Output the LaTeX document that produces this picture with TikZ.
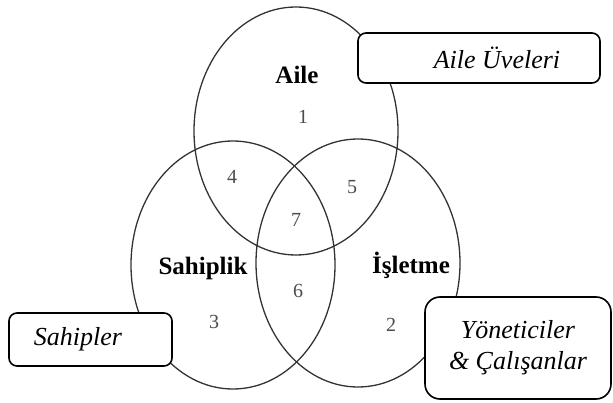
\documentclass[tikz,border=0pt]{standalone}
\usepackage{fontspec}
\setmainfont{Liberation Serif}
\usetikzlibrary{shapes.geometric}

\tikzset{
  venn/.style={draw=black!80, line width=1.3pt, ellipse, inner sep=0pt,
    minimum width=204pt, minimum height=248pt},
  title/.style={font=\fontsize{25}{28}\selectfont\bfseries},
  num/.style={font=\fontsize{20}{22}\selectfont, text=black!70},
  tag/.style={draw, line width=1.6pt, fill=white, rounded corners=8pt,
    inner sep=0pt, font=\fontsize{26}{31}\selectfont\itshape}
}

\begin{document}
\begin{tikzpicture}[x=1pt,y=-1pt]
\useasboundingbox (0,0) rectangle (613,403);
% three sets
\node [venn] (aile) at (296,131) {};
\node [venn] (sahiplik) at (233,265) {};
\node [venn] (isletme) at (358,263) {};
% set names and regions
\node [title] (ailead) at (297,75) {Aile};
\node [title] (sahipad) at (203,268) {Sahiplik};
\node [title] (isletad) at (411,265) {İşletme};
\node [num] (r1) at (303,117) {1};
\node [num] (r2) at (391,325) {2};
\node [num] (r3) at (214,322) {3};
\node [num] (r4) at (232,177) {4};
\node [num] (r5) at (352,187) {5};
\node [num] (r6) at (298,291) {6};
\node [num] (r7) at (296,220) {7};
% boxes
\node [tag, minimum width=242pt, minimum height=50pt] (uyeler) at (479,58)
  {\hspace*{36pt}Aile Üveleri};
\node [tag, minimum width=163pt, minimum height=53pt] (sahipler) at (90.5,339.5)
  {Sahipler\hspace*{25pt}};
\node [tag, rounded corners=15pt, minimum width=186pt, minimum height=102pt,
  align=center] (yonetici) at (518,348) {Yöneticiler\\\& Çalışanlar};
\end{tikzpicture}
\end{document}
